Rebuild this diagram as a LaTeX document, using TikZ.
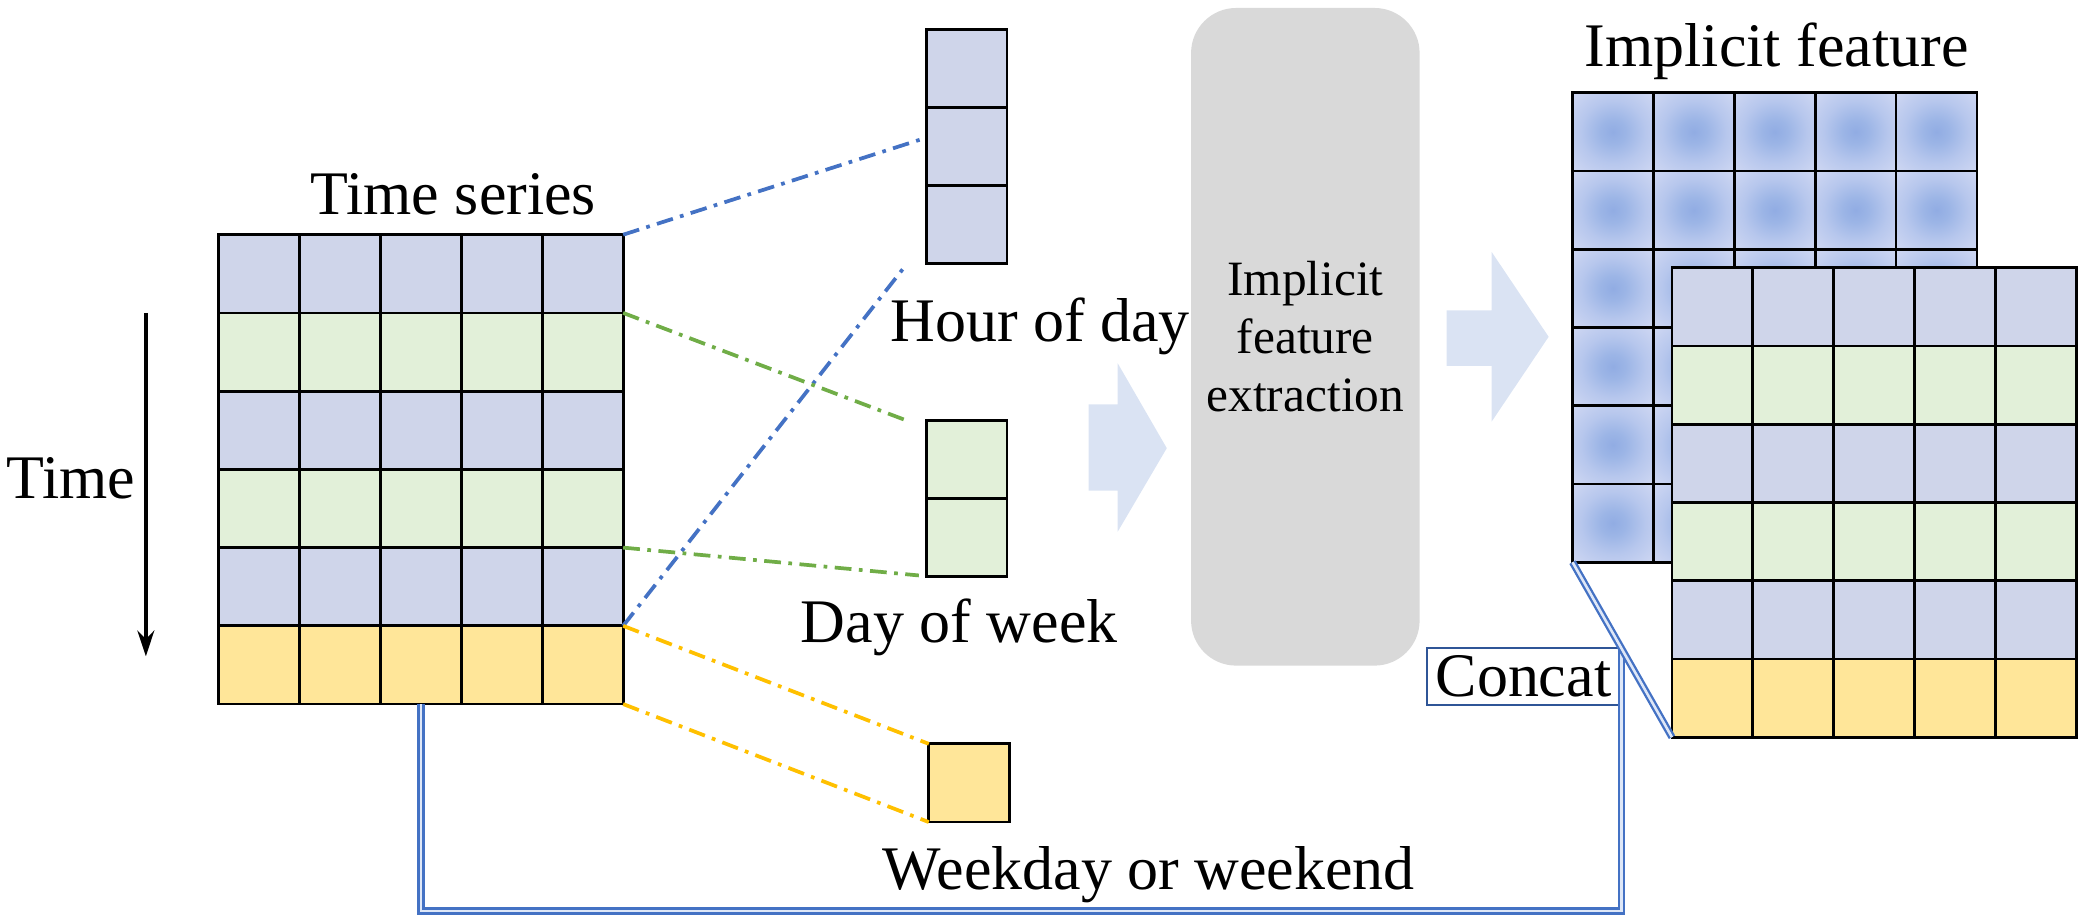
\documentclass[tikz,border=0pt]{standalone}
\usepackage{fontspec}
\setmainfont{Liberation Serif}
\usetikzlibrary{arrows.meta,positioning}
\definecolor{cellblue}{RGB}{207,213,234}
\definecolor{cellgreen}{RGB}{226,240,217}
\definecolor{cellyellow}{RGB}{255,230,153}
\definecolor{boxgray}{RGB}{217,217,217}
\definecolor{arrowfill}{RGB}{218,227,243}
\definecolor{lineblue}{RGB}{68,114,196}
\definecolor{linegreen}{RGB}{112,173,71}
\definecolor{lineyellow}{RGB}{255,192,0}
\definecolor{concatblue}{RGB}{47,85,151}
\definecolor{glowin}{RGB}{145,172,227}
\definecolor{glowa}{RGB}{156,181,230}
\definecolor{glowb}{RGB}{183,199,237}
\definecolor{glowc}{RGB}{205,214,242}
\definecolor{glowout}{RGB}{217,223,245}
\pgfdeclareradialshading{cellglow}{\pgfpoint{0bp}{0bp}}{color(0bp)=(glowin); color(8bp)=(glowa); color(20bp)=(glowb); color(34bp)=(glowc); color(50bp)=(glowout); color(75bp)=(glowout)}
\tikzset{
  cell/.style={draw, line width=0.6pt, minimum width=6.1mm, minimum height=5.9mm, inner sep=0pt, outer sep=0pt},
  glowcell/.style={cell, shading=cellglow},
  lbl/.style={font=\fontsize{13.3}{16}\selectfont, inner sep=0pt},
  dashdot/.style={line width=0.8pt, dash pattern=on 3.6pt off 1.6pt on 0.8pt off 1.6pt},
  concatline/.style={draw=lineblue, double={rgb,255:red,222;green,231;blue,247}, double distance=0.55pt, line width=0.5pt},
  blockarrow/.style={fill=arrowfill}
}
\begin{document}
\begin{tikzpicture}[x=0.1mm, y=-0.1mm]
\useasboundingbox (0,0) rectangle (1568,694.6);
% time series grid
\foreach \r/\col in {0/cellblue,1/cellgreen,2/cellblue,3/cellgreen,4/cellblue,5/cellyellow}
  \foreach \c in {0,...,4}
    \node[cell, fill=\col] (ts-\r-\c) at ({195.5+61*\c},{206.5+59*\r}) {};
\node[lbl, anchor=base] (ts-title) at (342,162) {Time series};
\coordinate (t-top) at (110,236);
\coordinate (t-bot) at (110,495);
\draw[line width=0.9pt, -{Stealth[length=5.5pt,width=3.6pt]}] (t-top) -- (t-bot);
\node[lbl, anchor=base] (time) at (53.5,376) {Time};
% extracted boxes
\foreach \r in {0,1,2}
  \node[cell, fill=cellblue] (hr-\r) at (729,{51.5+59*\r}) {};
\foreach \r in {0,1}
  \node[cell, fill=cellgreen] (dw-\r) at (729,{346.5+59*\r}) {};
\node[cell, fill=cellyellow] (we) at (731,590.5) {};
\node[lbl, anchor=base] (hr-title) at (784.5,257.5) {Hour of day};
\node[lbl, anchor=base] (dw-title) at (723.5,484.5) {Day of week};
\node[lbl, anchor=base] (we-title) at (866.5,670.5) {Weekday or weekend};
\coordinate (hr-a) at (695,105);
\coordinate (hr-b) at (684,199);
\coordinate (dw-a) at (686,318);
\coordinate (dw-b) at (693,434);
\draw[dashdot, lineblue] (ts-0-4.north east) -- (hr-a);
\draw[dashdot, lineblue] (ts-4-4.south east) -- (hr-b);
\draw[dashdot, linegreen] (ts-1-4.north east) -- (dw-a);
\draw[dashdot, linegreen] (ts-3-4.south east) -- (dw-b);
\draw[dashdot, lineyellow] (ts-5-4.north east) -- (we.north west);
\draw[dashdot, lineyellow] (ts-5-4.south east) -- (we.south west);
% extraction
\fill[blockarrow] (821,305) -- (843,305) -- (843,274) -- (880,338) -- (843,401) -- (843,370) -- (821,370) -- cycle;
\node[fill=boxgray, rounded corners=3.4mm, minimum width=16.7mm, minimum height=49.6mm, align=center,
  font=\fontsize{10.6}{12.5}\selectfont] (ife) at (984.5,254) {Implicit\\feature\\extraction};
\fill[blockarrow] (1091,234) -- (1125,234) -- (1125,190) -- (1168,254) -- (1125,318) -- (1125,276) -- (1091,276) -- cycle;
% implicit feature grids
\foreach \r in {0,...,5}
  \foreach \c in {0,...,4}
    \node[glowcell] (bg-\r-\c) at ({1216.5+61*\c},{99.5+59*\r}) {};
\node[lbl, anchor=base] (if-title) at (1340,50.5) {Implicit feature};
\foreach \r/\col in {0/cellblue,1/cellgreen,2/cellblue,3/cellgreen,4/cellblue,5/cellyellow}
  \foreach \c in {0,...,4}
    \node[cell, fill=\col] (fg-\r-\c) at ({1291.5+61*\c},{231.5+59*\r}) {};
% concat
\node[draw=concatblue, line width=0.5pt, fill=white, minimum width=14.6mm, minimum height=4.3mm,
  inner sep=0pt, lbl] (concat) at (1149,510) {Concat};
\draw[concatline] (ts-5-2.south) -- ++(0,156) -| (concat.north east);
\draw[concatline] (bg-5-0.south west) -- (fg-5-0.south west);
\end{tikzpicture}
\end{document}
